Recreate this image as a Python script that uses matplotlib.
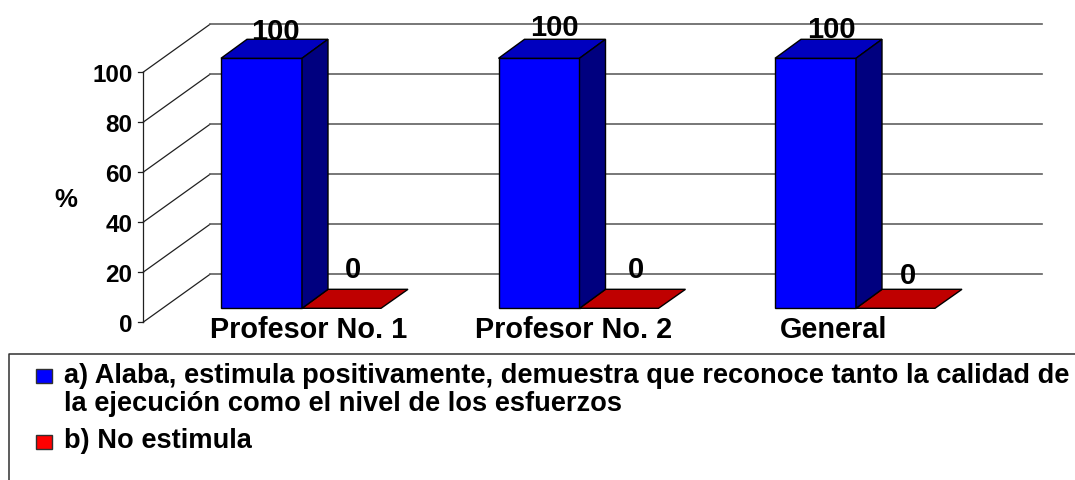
import matplotlib
matplotlib.use("Agg")
import matplotlib.pyplot as plt
from matplotlib.patches import Polygon, Rectangle

categories = ["Profesor No. 1", "Profesor No. 2", "General"]
serie_a = [100, 100, 100]
serie_b = [0, 0, 0]
ticks = [0, 20, 40, 60, 80, 100]
legend_a = "a) Alaba, estimula positivamente, demuestra que reconoce tanto la calidad de\nla ejecución como el nivel de los esfuerzos"
legend_b = "b) No estimula"
axis_label = "%"

W, H = 1075, 480
plt.rcParams['font.family'] = ['Liberation Sans', 'DejaVu Sans']
fig = plt.figure(figsize=(W / 100, H / 100), dpi=100)
ax = fig.add_axes([0, 0, 1, 1])
ax.axis("off")
PX = 2.5  # pixels per percent
Y0 = 308.3  # pixel row of a bar's base (front face)
ax.set_xlim(0, W)
ax.set_ylim((Y0 - H) / PX, Y0 / PX)

def dy(px):
    return px / PX

# plot frame offsets, in pixels
fx, bx, rx = 143, 210, 1041.5
front0 = -dy(14.0)
back0 = dy(34.0)
for t in ticks:
    ax.plot([fx, bx], [front0 + t, back0 + t], color="#202020", lw=0.9, zorder=1)
    ax.plot([bx, rx], [back0 + t, back0 + t], color="#606060", lw=1.2, zorder=1)
    ax.plot([fx - 5, fx], [front0 + t, front0 + t], color="#202020", lw=0.9, zorder=1)
    ax.text(132.5, front0 + t - dy(3), str(t), ha="right", va="center",
            fontsize=17.5, fontweight="bold", color="black")
ax.plot([fx, fx], [front0, front0 + 100], color="#202020", lw=0.9, zorder=1)

# bars
starts = [221, 498.5, 775]
bw, dx, dv = 81, 26, dy(19)
edge = dict(edgecolor="black", linewidth=1.0, joinstyle="miter")
for x0, a, b in zip(starts, serie_a, serie_b):
    x1 = x0 + bw
    ax.bar(x0, a, bw, align="edge", color="#0000ff", zorder=3, **edge)
    ax.add_patch(Polygon([(x0, a), (x1, a), (x1 + dx, a + dv), (x0 + dx, a + dv)],
                         facecolor="#0000bf", zorder=3, **edge))
    ax.add_patch(Polygon([(x1, 0), (x1 + dx, dv), (x1 + dx, a + dv), (x1, a)],
                         facecolor="#00007f", zorder=3, **edge))
    x2 = x1 + 79
    ax.add_patch(Polygon([(x1, b), (x2, b), (x2 + dx + 1, b + dv), (x1 + dx, b + dv)],
                         facecolor="#bf0000", zorder=2, **edge))

# value labels
pos_a = [(275, 32.5), (554.5, 28.5), (831, 30.5)]
pos_b = [(353, 270.5), (636, 270.5), (908, 276)]
for (px, py), v in zip(pos_a + pos_b, serie_a + serie_b):
    ax.text(px, (Y0 - py) / PX, str(v), ha="center", va="center", fontsize=21,
            fontweight="bold", color="black", zorder=5)

# category labels
for px, c in zip([309, 574, 834], categories):
    ax.text(px, (Y0 - 329.5) / PX, c, ha="center", va="center", fontsize=20.8,
            fontweight="bold", color="black", zorder=5)

ax.text(66, (Y0 - 200) / PX, axis_label, ha="center", va="center", fontsize=18.5,
        fontweight="bold", color="black")

# legend frame
top = (Y0 - 353.5) / PX
bottom = (Y0 - H) / PX
ax.plot([1075, 8.5, 8.5], [top, top, bottom], color="#303030", lw=1.1, zorder=1)

# legend
for py, col in [(368.5, "#0000ff"), (434.5, "#ff0000")]:
    ax.add_patch(Rectangle((35.5, (Y0 - py - 14) / PX), 16, dy(14),
                           facecolor=col, edgecolor="#303030", linewidth=1.0, zorder=4))
ax.text(64, (Y0 - 390) / PX, legend_a, ha="left", va="center", fontsize=19.6,
        fontweight="bold", color="black", linespacing=1.07)
ax.text(64, (Y0 - 441) / PX, legend_b, ha="left", va="center", fontsize=19.6,
        fontweight="bold", color="black")

fig.savefig("out.png", dpi=100, facecolor="white")
